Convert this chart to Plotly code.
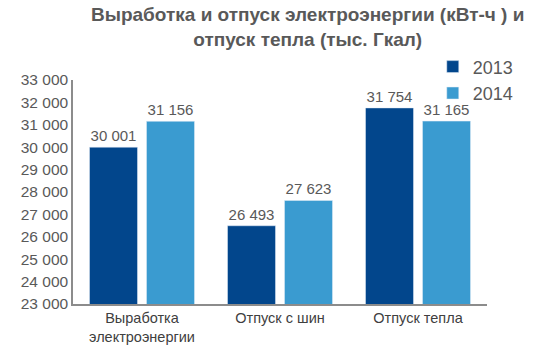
import plotly.graph_objects as go

categories = ["Выработка<br>электроэнергии", "Отпуск с шин", "Отпуск тепла"]
series_names = ["2013", "2014"]
values_2013 = [30001, 26493, 31754]
values_2014 = [31156, 27623, 31165]
labels_2013 = ["30 001", "26 493", "31 754"]
labels_2014 = ["31 156", "27 623", "31 165"]
tick_vals = [23000, 24000, 25000, 26000, 27000, 28000, 29000, 30000, 31000, 32000, 33000]
tick_text = ["23 000", "24 000", "25 000", "26 000", "27 000", "28 000", "29 000", "30 000", "31 000", "32 000", "33 000"]
title_text = "<b>Выработка и отпуск электроэнергии (кВт-ч ) и<br>отпуск тепла (тыс. Гкал)</b>"

gray = "#595959"
font = "Liberation Sans, Arial, sans-serif"

fig = go.Figure()
fig.add_trace(go.Bar(x=categories, y=values_2013, name=series_names[0], marker_color="#02468C",
                     text=labels_2013, textposition="outside", cliponaxis=False,
                     textfont=dict(size=15, color=gray, family=font)))
fig.add_trace(go.Bar(x=categories, y=values_2014, name=series_names[1], marker_color="#3A9BD0",
                     text=labels_2014, textposition="outside", cliponaxis=False,
                     textfont=dict(size=15, color=gray, family=font)))

fig.add_annotation(text=title_text, xref="paper", yref="paper", x=0.566, y=1.348,
                   xanchor="center", yanchor="top", showarrow=False, align="center",
                   font=dict(size=19, color=gray, family=font))

fig.update_layout(
    width=542, height=357,
    margin=dict(l=73, r=55, t=80, b=53, autoexpand=False),
    paper_bgcolor="white", plot_bgcolor="white",
    barmode="group", bargap=0.174, bargroupgap=0.158,
    font=dict(family=font, color=gray),
    legend=dict(x=0.869, y=1.141, xanchor="left", yanchor="top",
                font=dict(size=18, color=gray, family=font),
                bgcolor="rgba(0,0,0,0)", itemwidth=30, tracegroupgap=0),
    yaxis=dict(range=[23000, 33000], tickvals=tick_vals, ticktext=tick_text,
               showgrid=False, zeroline=False, showline=True, linecolor="#8C8C8C", linewidth=1.5,
               ticks="", tickfont=dict(size=15.5, color=gray, family=font)),
    xaxis=dict(showline=True, linecolor="#8C8C8C", linewidth=1.5, ticks="",
               tickfont=dict(size=14.5, color="#404040", family=font)),
)

fig.write_html("out.html", config={"displayModeBar": False},
               post_script="document.body.style.margin='0';")
